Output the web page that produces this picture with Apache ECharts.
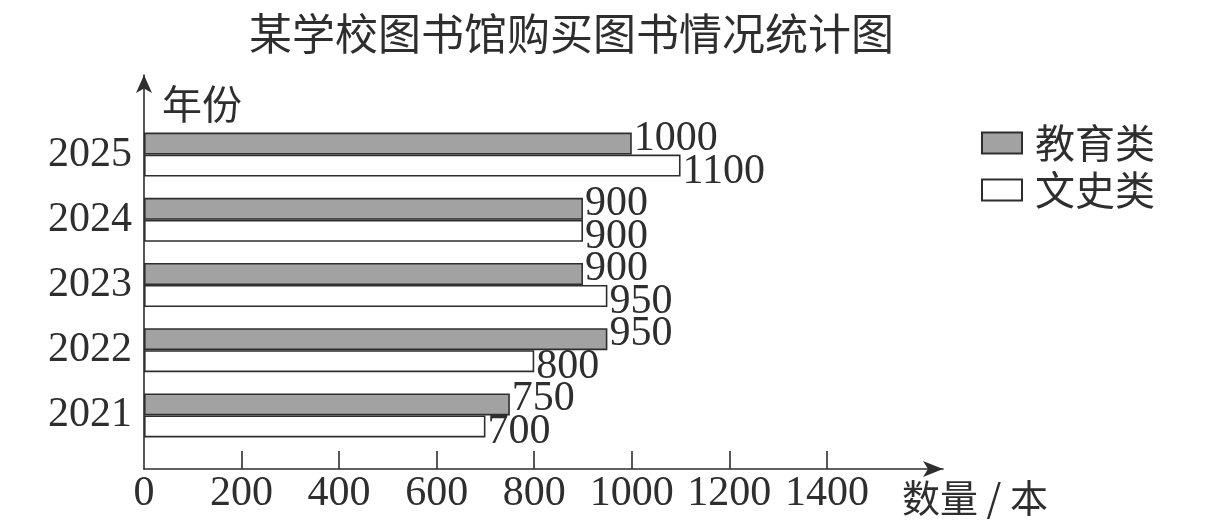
<!DOCTYPE html>
<html>
<head>
<meta charset="utf-8">
<script src="https://cdn.jsdelivr.net/npm/echarts@6/dist/echarts.min.js"></script>
<style>
html,body{margin:0;padding:0;background:#fff;}
#chart{width:1219px;height:528px;}
</style>
</head>
<body>
<div id="chart"></div>
<script>
const titleText = '某学校图书馆购买图书情况统计图';
const years = ['2021', '2022', '2023', '2024', '2025'];
const seriesNames = ['教育类', '文史类'];
const educationValues = [750, 950, 900, 900, 1000];
const historyValues = [700, 800, 950, 900, 1100];
const xTickValues = [0, 200, 400, 600, 800, 1000, 1200, 1400];
const xAxisName = '数量 / 本';
const yAxisName = '年份';

const ink = '#2e2e2e';
const serif = '"Liberation Serif", "Times New Roman", serif';
const cjk = '"Noto Sans CJK SC", sans-serif';
const xMax = 1638;

const chart = echarts.init(document.getElementById('chart'));
chart.setOption({
  animation: false,
  backgroundColor: '#fff',
  title: {
    text: titleText,
    left: 249,
    top: 12,
    padding: 0,
    textStyle: { fontFamily: cjk, fontSize: 43, fontWeight: 'normal', color: ink }
  },
  legend: {
    data: seriesNames,
    orient: 'vertical',
    left: 981,
    top: 123,
    padding: 0,
    itemWidth: 40,
    itemHeight: 21,
    itemGap: 7,
    icon: 'rect',
    textStyle: { fontFamily: cjk, fontSize: 40, color: ink, padding: [0, 0, 0, 8] }
  },
  grid: [
    { left: 144, right: 276, top: 75, bottom: 59, containLabel: false, outerBoundsMode: 'none' },
    { left: 144, right: 276, top: 122, bottom: 80, containLabel: false, outerBoundsMode: 'none' }
  ],
  xAxis: [
    {
      gridIndex: 0,
      type: 'value',
      min: 0,
      max: xMax,
      axisLine: { show: true, lineStyle: { color: ink, width: 1.6 }, symbol: ['none', 'arrow'], symbolSize: [12, 20] },
      axisTick: { show: true, inside: true, length: 18, customValues: xTickValues.slice(1), lineStyle: { color: ink, width: 1.6 } },
      axisLabel: { show: true, customValues: xTickValues, formatter: v => String(v), margin: 4, fontFamily: serif, fontSize: 42, color: ink },
      splitLine: { show: false },
      name: xAxisName,
      nameLocation: 'end',
      nameGap: -41,
      nameTextStyle: { fontFamily: cjk, fontSize: 38, color: ink, align: 'left', verticalAlign: 'top', padding: [10, 0, 0, 0] }
    },
    {
      gridIndex: 1,
      type: 'value',
      min: 0,
      max: xMax,
      show: false
    }
  ],
  yAxis: [
    {
      gridIndex: 0,
      type: 'value',
      min: 0,
      max: 1,
      axisLine: { show: true, lineStyle: { color: ink, width: 1.6 }, symbol: ['none', 'arrow'], symbolSize: [12, 18] },
      axisTick: { show: false },
      axisLabel: { show: false },
      splitLine: { show: false },
      name: yAxisName,
      nameLocation: 'end',
      nameGap: -29,
      nameTextStyle: { fontFamily: cjk, fontSize: 40, color: ink, align: 'left', verticalAlign: 'middle', padding: [0, 0, 0, 18] }
    },
    {
      gridIndex: 1,
      type: 'category',
      data: years,
      axisLine: { show: false },
      axisTick: { show: false },
      axisLabel: { margin: 12, fontFamily: serif, fontSize: 42, color: ink },
      splitLine: { show: false }
    }
  ],
  series: [
    {
      name: seriesNames[0],
      type: 'bar',
      xAxisIndex: 1,
      yAxisIndex: 1,
      data: educationValues,
      barWidth: 22,
      barGap: '0%',
      itemStyle: { color: '#a2a2a2', borderColor: ink, borderWidth: 1.6 },
      label: { show: true, position: 'right', distance: 2, offset: [0, -5], fontFamily: serif, fontSize: 42, color: ink }
    },
    {
      name: seriesNames[1],
      type: 'bar',
      xAxisIndex: 1,
      yAxisIndex: 1,
      data: historyValues,
      barWidth: 22,
      barGap: '0%',
      itemStyle: { color: '#ffffff', borderColor: ink, borderWidth: 1.6 },
      label: { show: true, position: 'right', distance: 2, offset: [0, 6], fontFamily: serif, fontSize: 42, color: ink }
    }
  ]
});
</script>
</body>
</html>
